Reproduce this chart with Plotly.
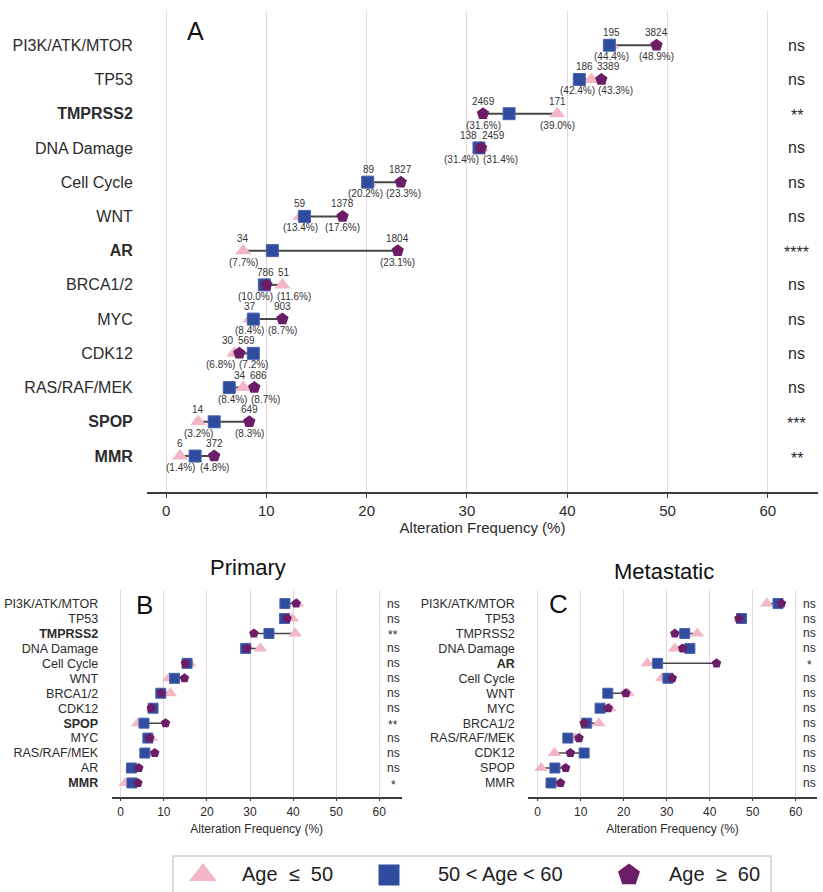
import plotly.graph_objects as go

# ---------------- data ----------------
# Panel A (all patients)
cats_a = ["PI3K/ATK/MTOR", "TP53", "TMPRSS2", "DNA Damage", "Cell Cycle", "WNT", "AR",
          "BRCA1/2", "MYC", "CDK12", "RAS/RAF/MEK", "SPOP", "MMR"]
young_a = [44.4, 42.4, 39.0, 31.4, 20.2, 13.4, 7.7, 11.6, 8.4, 6.8, 7.7, 3.2, 1.4]
mid_a = [44.2, 41.2, 34.2, 31.2, 20.1, 13.8, 10.6, 9.8, 8.7, 8.7, 6.3, 4.8, 2.9]
old_a = [48.9, 43.4, 31.6, 31.4, 23.4, 17.6, 23.1, 10.0, 11.6, 7.3, 8.8, 8.3, 4.8]
young_n_a = ["195", "186", "171", "138", "89", "59", "34", "51", "37", "30", "34", "14", "6"]
old_n_a = ["3824", "3389", "2469", "2459", "1827", "1378", "1804", "786", "903", "569", "686", "649", "372"]
young_pct_a = ["(44.4%)", "(42.4%)", "(39.0%)", "(31.4%)", "(20.2%)", "(13.4%)", "(7.7%)",
               "(11.6%)", "(8.4%)", "(6.8%)", "(8.4%)", "(3.2%)", "(1.4%)"]
old_pct_a = ["(48.9%)", "(43.3%)", "(31.6%)", "(31.4%)", "(23.3%)", "(17.6%)", "(23.1%)",
             "(10.0%)", "(8.7%)", "(7.2%)", "(8.7%)", "(8.3%)", "(4.8%)"]
sig_a = ["ns", "ns", "**", "ns", "ns", "ns", "****", "ns", "ns", "ns", "ns", "***", "**"]
bold_a = ["TMPRSS2", "AR", "SPOP", "MMR"]

# Panel B (Primary)
cats_b = ["PI3K/ATK/MTOR", "TP53", "TMPRSS2", "DNA Damage", "Cell Cycle", "WNT", "BRCA1/2",
          "CDK12", "SPOP", "MYC", "RAS/RAF/MEK", "AR", "MMR"]
young_b = [41.0, 39.8, 40.5, 32.4, 16.0, 11.2, 11.5, 7.3, 4.0, 7.1, 5.8, 2.5, 1.1]
mid_b = [38.1, 38.0, 34.4, 29.0, 15.4, 12.5, 9.3, 7.5, 5.4, 6.3, 5.6, 2.5, 2.6]
old_b = [40.7, 38.6, 30.9, 29.3, 15.0, 14.8, 9.4, 7.1, 10.4, 6.7, 7.9, 4.2, 4.0]
sig_b = ["ns", "ns", "**", "ns", "ns", "ns", "ns", "ns", "**", "ns", "ns", "ns", "*"]
bold_b = ["TMPRSS2", "SPOP", "MMR"]

# Panel C (Metastatic)
cats_c = ["PI3K/ATK/MTOR", "TP53", "TMPRSS2", "DNA Damage", "AR", "Cell Cycle", "WNT", "MYC",
          "BRCA1/2", "RAS/RAF/MEK", "CDK12", "SPOP", "MMR"]
young_c = [53.3, 47.2, 37.1, 31.9, 25.5, 28.9, 21.0, 16.8, 14.2, 8.7, 3.9, 0.8, 3.2]
mid_c = [55.9, 47.4, 34.2, 35.4, 27.9, 30.3, 16.3, 14.5, 11.4, 7.0, 10.8, 4.0, 3.1]
old_c = [56.7, 46.8, 31.9, 33.7, 41.6, 31.3, 20.5, 16.4, 10.8, 9.6, 7.6, 6.5, 5.3]
sig_c = ["ns", "ns", "ns", "ns", "*", "ns", "ns", "ns", "ns", "ns", "ns", "ns", "ns"]
bold_c = ["AR"]

x_ticks = [0, 10, 20, 30, 40, 50, 60]
group_names = ["Age\u00a0\u00a0\u2264\u00a0\u00a050", "50 < Age < 60", "Age\u00a0\u00a0\u2265\u00a0\u00a060"]

# ---------------- style ----------------
W, H = 823, 892
FONT = "Liberation Sans, Arial, sans-serif"
PINK = "#F2B6C4"
BLUE = "#2F4C9F"
PURPLE = "#6C1D68"
LINE = "#474747"
GRID = "#E0DADE"
TXT = "#2b2b2b"

fig = go.Figure()


def px_x(p):
    return p / W


def px_y(p):
    return 1 - p / H


def add_panel(cats, young, mid, old, xa, ya, msz, lw):
    ys = list(range(len(cats)))
    lx, ly = [], []
    for i in ys:
        vals = [young[i], mid[i], old[i]]
        lx += [min(vals), max(vals), None]
        ly += [i, i, None]
    common = dict(xaxis=xa, yaxis=ya, showlegend=False, hoverinfo="skip")
    fig.add_trace(go.Scatter(x=lx, y=ly, mode="lines", line=dict(color=LINE, width=lw), **common))
    fig.add_trace(go.Scatter(x=young, y=ys, mode="markers",
                             marker=dict(symbol="triangle-up", size=round(msz * 1.15), color=PINK,
                                         line=dict(width=0)), **common))
    fig.add_trace(go.Scatter(x=mid, y=ys, mode="markers",
                             marker=dict(symbol="square", size=msz, color=BLUE,
                                         line=dict(width=1, color="#4a63ad")), **common))
    fig.add_trace(go.Scatter(x=old, y=ys, mode="markers",
                             marker=dict(symbol="pentagon", size=round(msz * 1.05), color=PURPLE,
                                         line=dict(width=0)), **common))


add_panel(cats_a, young_a, mid_a, old_a, "x", "y", 12, 2)
add_panel(cats_b, young_b, mid_b, old_b, "x2", "y2", 10, 1.5)
add_panel(cats_c, young_c, mid_c, old_c, "x3", "y3", 10, 1.5)

annotations = []

# value labels on panel A with simple repel
PX_PER_UNIT_A = (818 - 147) / (65.0 + 1.9)


def spread(xa_, xb_, wa, wb, gap):
    pa, pb = xa_ * PX_PER_UNIT_A, xb_ * PX_PER_UNIT_A
    sep = (wa + wb) / 2 + gap
    d = abs(pb - pa)
    if d >= sep:
        return 0, 0
    s = (sep - d) / 2
    if xa_ <= xb_:
        return -s, s
    return s, -s


for i in range(len(cats_a)):
    xy, xo = young_a[i], old_a[i]
    sa, sb = spread(xy, xo, len(young_n_a[i]) * 5.8, len(old_n_a[i]) * 5.8, 4)
    pa, pb = spread(xy, xo, len(young_pct_a[i]) * 5.2, len(old_pct_a[i]) * 5.2, 2)
    for xv, t, xs, ys_ in [(xy, young_n_a[i], sa, 12.5), (xo, old_n_a[i], sb, 12.5),
                           (xy, young_pct_a[i], pa, -11.5), (xo, old_pct_a[i], pb, -11.5)]:
        annotations.append(dict(x=xv, y=i, xref="x", yref="y", text=t, showarrow=False,
                                xshift=xs, yshift=ys_, font=dict(family=FONT, size=10, color="#333"),
                                xanchor="center", yanchor="middle"))

# significance labels
for sig, xr, yr, xpos, fs in [(sig_a, "x", "y", 62.9, 16), (sig_b, "x2", "y2", 63.2, 12),
                               (sig_c, "x3", "y3", 63.3, 12)]:
    for i, s in enumerate(sig):
        annotations.append(dict(x=xpos, y=i, xref=xr, yref=yr, text=s, showarrow=False,
                                font=dict(family=FONT, size=fs, color=TXT),
                                xanchor="center", yanchor="middle",
                                yshift=(-2 if "*" in s else 0)))

# panel letters and titles
for txt, x, y, fs in [("A", 195, 31, 25), ("B", 144, 605, 26), ("C", 558, 604, 26),
                      ("Primary", 248, 567, 22), ("Metastatic", 664, 571, 22)]:
    annotations.append(dict(x=px_x(x), y=px_y(y), xref="paper", yref="paper", text=txt,
                            showarrow=False, xanchor="center", yanchor="middle",
                            font=dict(family=FONT, size=fs, color="#111")))

# manual legend (overlay axis in pixel units)
leg_items = [("triangle-up", PINK, 24, 203, 240),
             ("square", BLUE, 21, 389, 436),
             ("pentagon", PURPLE, 23, 629, 667)]
for (sym, col, sz, mx, tx), name in zip(leg_items, group_names):
    fig.add_trace(go.Scatter(x=[mx], y=[875], mode="markers", xaxis="x4", yaxis="y4",
                             marker=dict(symbol=sym, size=sz, color=col, line=dict(width=0)),
                             showlegend=False, hoverinfo="skip"))
    annotations.append(dict(x=px_x(tx), y=px_y(874), xref="paper", yref="paper", text=name,
                            showarrow=False, xanchor="left", yanchor="middle",
                            font=dict(family=FONT, size=20, color="#222")))

shapes = [dict(type="rect", xref="paper", yref="paper", x0=px_x(173), x1=px_x(771),
               y0=px_y(897), y1=px_y(856), line=dict(color="#cfcfcf", width=1.5),
               fillcolor="rgba(0,0,0,0)")]


def ticktext(cats, bold):
    return ["<b>%s</b>" % c if c in bold else c for c in cats]


def xaxis(dom, rng, fs, anchor, tlen, standoff):
    return dict(domain=dom, range=rng, tickmode="array", tickvals=x_ticks, showgrid=True,
                gridcolor=GRID, gridwidth=1, zeroline=False, showline=True, linecolor="#3c3c3c",
                linewidth=1.5, ticks="outside", ticklen=tlen, tickcolor="#3c3c3c", tickwidth=1,
                tickfont=dict(family=FONT, size=fs, color=TXT), anchor=anchor,
                title=dict(text="Alteration Frequency (%)", font=dict(family=FONT, size=fs, color=TXT),
                           standoff=standoff))


def yaxis(dom, rng, cats, bold, fs, anchor):
    return dict(domain=dom, range=rng, tickmode="array", tickvals=list(range(len(cats))),
                ticktext=ticktext(cats, bold), showgrid=False, zeroline=False, showline=False,
                ticks="outside", ticklen=10, tickcolor="rgba(0,0,0,0)",
                tickfont=dict(family=FONT, size=fs, color=TXT), anchor=anchor)


fig.update_layout(
    width=W, height=H, margin=dict(l=0, r=0, t=0, b=0),
    paper_bgcolor="white", plot_bgcolor="rgba(0,0,0,0)", showlegend=False,
    font=dict(family=FONT, color=TXT),
    xaxis=xaxis([px_x(147), px_x(818)], [-1.9, 65.0], 15, "y", 4, 4),
    yaxis=yaxis([px_y(492), px_y(11)], [13.05, -1.0], cats_a, bold_a, 16, "x"),
    xaxis2=xaxis([px_x(111.7), px_x(401.7)], [-2.09, 65.2], 12, "y2", 3, 7),
    yaxis2=yaxis([px_y(796.7), px_y(589.5)], [12.92, -0.94], cats_b, bold_b, 12.5, "x2"),
    xaxis3=xaxis([px_x(528.3), px_x(816.7)], [-2.19, 64.9], 12, "y3", 3, 7),
    yaxis3=yaxis([px_y(796.7), px_y(589.5)], [12.92, -0.94], cats_c, bold_c, 12.5, "x3"),
    xaxis4=dict(domain=[0, 1], range=[0, W], visible=False, anchor="y4"),
    yaxis4=dict(domain=[0, 1], range=[H, 0], visible=False, anchor="x4"),
    annotations=annotations, shapes=shapes,
)

fig.write_html("out.html")
